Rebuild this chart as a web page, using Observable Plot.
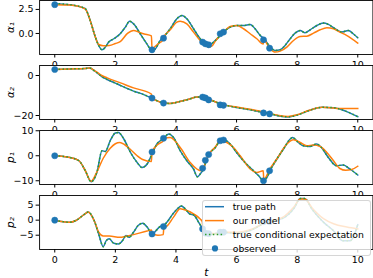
<!DOCTYPE html>
<html><head><meta charset="utf-8">
<script src="https://cdn.jsdelivr.net/npm/d3@7"></script>
<script src="https://cdn.jsdelivr.net/npm/@observablehq/plot@0.6"></script>
<style>
body{margin:0;background:#fff;}
#fig{position:relative;width:373px;height:278px;overflow:hidden;font-family:"DejaVu Sans",sans-serif;background:#fff;}
#fig svg.panel{position:absolute;left:0;}
#legend{position:absolute;left:202px;top:200px;width:169px;height:56px;box-sizing:border-box;background:rgba(255,255,255,0.8);border:1px solid rgba(204,204,204,0.8);border-radius:3px;}
</style></head><body><div id="fig"></div>
<script>
// ---- data (t, value) ----
const xTicks = [0, 2, 4, 6, 8, 10];
const seriesNames = ["true path", "our model", "true conditional expectation", "observed"];
const seriesColors = ["#1f77b4", "#ff7f0e", "#2ca02c", "#1f77b4"];
const panelLabels = ["α₁", "α₂", "p₁", "p₂"];

const tObs = [0, 3.21, 3.59, 4.88, 4.97, 5.08, 5.46, 5.57, 6.89, 7.09];
const obsA1 = [3.0, -1.7, -0.49, -0.9, -1.08, -1.18, -0.03, 0.14, -0.66, -1.53];
const obsA2 = [3.0, -11.3, -13.8, -10.8, -11.2, -12.2, -14.7, -14.9, -18.7, -19.2];
const obsP1 = [0, 1.5, 7.0, -5.0, -1.8, 0.5, 6.0, 6.3, -10, -6];
const obsP2 = [0, -4.6, -2.1, -2.9, -4.3, -4.5, -4.0, -4.0, -0.5, -0.5];

const a1True = [[0,3.1],[0.5,3.0],[1.0,2.6],[1.17,1.35],[1.34,-0.38],[1.45,-1.25],[1.56,-1.7],[1.67,-1.42],[1.78,-0.9],[1.95,-0.55],[2.16,-0.03],[2.33,0.66],[2.47,1.28],[2.65,0.83],[2.82,-0.03],[3.04,-1.08],[3.19,-1.7],[3.3,-1.65],[3.48,-0.73],[3.59,-0.38],[3.81,0.49],[4.03,1.53],[4.2,1.88],[4.36,1.53],[4.58,0.49],[4.8,-0.55],[4.91,-0.9],[5.08,-1.25],[5.24,-0.9],[5.41,-0.38],[5.57,0.14],[5.79,0.66],[6.01,0.83],[6.23,0.83],[6.45,0.94],[6.61,0.49],[6.78,-0.2],[6.94,-0.66],[7.11,-1.42],[7.27,-1.77],[7.44,-1.7],[7.6,-1.25],[7.77,-0.55],[7.93,0.03],[8.1,0.31],[8.26,0.07],[8.43,0.38],[8.65,0.83],[8.87,1.08],[9.03,0.94],[9.25,0.49],[9.47,0.14],[9.69,0.31],[9.85,-0.03],[10,-0.45]];
const a1Model = [[0,3.0],[0.5,2.95],[1.0,2.55],[1.17,1.35],[1.34,-0.38],[1.45,-1.15],[1.6,-1.28],[1.8,-1.25],[2.0,-1.05],[2.16,-0.85],[2.4,0.0],[2.6,0.31],[2.8,0.1],[2.95,-0.05],[3.19,-0.25],[3.21,-1.55],[3.4,-1.1],[3.58,-0.65],[3.6,-0.4],[3.81,0.38],[4.03,1.18],[4.14,1.28],[4.36,1.0],[4.58,0.14],[4.8,-0.73],[4.91,-1.08],[5.08,-1.42],[5.19,-1.3],[5.3,-0.8],[5.46,-0.2],[5.57,0.14],[5.79,0.73],[6.01,0.83],[6.23,0.49],[6.45,-0.03],[6.67,-0.55],[6.88,-1.1],[6.9,-0.7],[7.11,-1.6],[7.27,-1.94],[7.44,-1.84],[7.66,-1.42],[7.88,-0.73],[8.1,-0.31],[8.32,-0.28],[8.54,0.03],[8.76,0.38],[8.98,0.59],[9.2,0.49],[9.41,0.14],[9.63,-0.2],[10,-1.0]];

const a2True = [[0,3.0],[0.5,3.3],[1.0,3.5],[1.15,3.7],[1.34,2.0],[1.55,-0.5],[1.73,-2.0],[2.0,-3.8],[2.17,-5.0],[2.6,-7.8],[2.9,-9.3],[3.2,-11.3],[3.4,-12.8],[3.6,-13.8],[3.8,-14.0],[4.0,-13.5],[4.4,-12.0],[4.7,-10.8],[4.9,-10.9],[5.1,-12.0],[5.5,-14.3],[6.0,-16.0],[6.5,-17.3],[6.9,-18.6],[7.1,-19.1],[7.4,-20.2],[7.7,-20.7],[8.0,-19.8],[8.4,-17.5],[8.82,-15.9],[9.2,-16.1],[9.6,-17.8],[10,-20.6]];
const a2Model = [[0,3.0],[0.5,3.3],[1.0,3.5],[1.15,3.7],[1.34,2.2],[1.55,0.0],[1.73,-1.2],[2.17,-3.7],[2.6,-6.2],[3.19,-9.3],[3.21,-11.3],[3.4,-12.8],[3.6,-13.8],[3.8,-14.0],[4.0,-13.5],[4.4,-12.0],[4.7,-10.8],[4.9,-10.9],[5.1,-12.0],[5.5,-14.3],[6.0,-15.8],[6.5,-17.0],[6.9,-18.3],[7.1,-19.0],[7.4,-20.0],[7.7,-20.5],[8.0,-19.6],[8.4,-17.4],[8.82,-15.9],[9.2,-16.3],[9.35,-16.5],[10,-16.5]];

const p1True = [[0,0],[0.5,-0.7],[0.8,-2],[1.01,-6],[1.2,-10.4],[1.39,-6.7],[1.56,2.0],[1.67,1.7],[1.83,6],[2.0,9.1],[2.1,9.3],[2.28,6.7],[2.5,1.3],[2.72,-2.7],[2.88,-4.7],[3.05,-3.3],[3.21,0.7],[3.37,4.7],[3.59,6.9],[3.76,8.7],[3.92,7.3],[4.14,2.0],[4.36,-2.0],[4.58,-5.3],[4.71,-8.4],[4.8,-7.3],[4.91,-5.3],[5.0,-2],[5.1,0.7],[5.3,3.3],[5.46,6],[5.58,6.4],[5.79,4.7],[6.0,1.3],[6.28,-2.7],[6.5,-5.3],[6.73,-8],[6.89,-10],[7.0,-8.7],[7.16,-4.7],[7.33,-1.3],[7.55,2.7],[7.77,6.7],[7.85,7.3],[8.04,5.3],[8.2,4.0],[8.42,3.7],[8.64,4.7],[8.8,3.3],[9.03,-0.7],[9.3,-4],[9.52,-3.7],[9.74,-5.3],[10,-7.7]];
const p1Model = [[0,0],[0.5,-0.7],[0.8,-2],[1.01,-6],[1.2,-10.2],[1.39,-6.5],[1.6,-1],[1.83,3],[2.0,4.8],[2.15,5.3],[2.3,4.5],[2.5,2.5],[2.72,0],[2.9,-1.5],[3.19,-2.3],[3.21,1.5],[3.4,4.5],[3.58,6.0],[3.6,6.9],[3.81,7.3],[4.14,3.3],[4.47,-2.7],[4.69,-5.3],[4.8,-6],[4.9,-5.5],[4.97,-2.7],[5.08,0.5],[5.3,3.5],[5.46,6],[5.68,5.3],[5.9,3.3],[6.12,0],[6.45,-5.3],[6.67,-6.7],[6.88,-6],[6.9,-9.6],[7.09,-5.5],[7.33,-1.3],[7.66,4.7],[7.88,6.4],[8.1,5.3],[8.32,4],[8.54,4.3],[8.76,3.7],[8.98,1.3],[9.2,-2],[9.41,-5.1],[9.6,-5.8],[9.8,-5.5],[10,-4.2]];

const p2True = [[0,0],[0.5,-0.7],[0.7,-0.1],[1.0,2.1],[1.1,2.7],[1.3,-0.1],[1.45,-4.6],[1.6,-8.8],[1.7,-6.8],[1.8,-6.2],[1.95,-7.7],[2.1,-7.9],[2.25,-6.6],[2.35,-5.1],[2.45,-5.7],[2.6,-4],[2.75,-1.8],[2.9,-1.0],[3.05,-2.3],[3.21,-4.6],[3.35,-3.4],[3.45,-2.3],[3.59,-1.8],[3.7,-0.7],[3.9,2.1],[4.05,3.8],[4.18,4.7],[4.3,3.8],[4.45,2.1],[4.6,1.6],[4.75,-0.7],[4.88,-2.9],[5.0,-4.2],[5.2,-4.6],[5.5,-4.0],[6.0,-4.3],[6.5,-3.2],[7.0,-0.5],[7.5,0.5],[7.9,4],[8.1,7.2],[8.25,7.2],[8.5,3.5],[8.87,-0.7],[9.2,-3.5],[9.5,-6.8],[9.75,-6.8],[10,-1.5]];
const p2Model = [[0,0],[0.5,-0.7],[0.7,-0.1],[1.0,2.1],[1.1,2.7],[1.3,-0.1],[1.45,-4],[1.6,-5.3],[1.8,-5.3],[2.15,-5.7],[2.6,-4.8],[3.05,-3.6],[3.19,-3.3],[3.21,-4.5],[3.4,-5.0],[3.58,-4.8],[3.6,-2.5],[3.7,-2.0],[3.92,1],[4.14,3.8],[4.36,3.2],[4.58,2.1],[4.8,0.4],[4.87,-0.5],[4.89,-3.0],[5.0,-4.0],[5.3,-4.5],[5.6,-4.0],[6.0,-4.0],[6.5,-3.0],[7.0,-0.6],[7.5,0.8],[7.9,4.5],[8.1,7.0],[8.25,7.0],[8.5,4.0],[8.87,0.5],[9.2,-1.2],[9.64,-2.3],[10,-2.9]];

// true conditional expectation coincides with the true path here
const a1Cond = a1True, a2Cond = a2True, p1Cond = p1True, p2Cond = p2True;

const yDomains = [[-2.19, 3.43], [-22, 5], [-11.5, 10.1], [-9.75, 8.2]];
const yTicks = [[0, 2.5], [0, -20], [10, 0, -10], [5, 0, -5]];
const intFmt = d => d3.format("d")(d).replace("-", "−");
const yFormats = [d3.format(".1f"), intFmt, intFmt, intFmt];

const panels = [
  {tru: a1True, model: a1Model, cond: a1Cond, obs: obsA1},
  {tru: a2True, model: a2Model, cond: a2Cond, obs: obsA2},
  {tru: p1True, model: p1Model, cond: p1Cond, obs: obsP1},
  {tru: p2True, model: p2Model, cond: p2Cond, obs: obsP2}
];

// ---- layout ----
const fig = document.getElementById("fig");
const MT = 10, MB = 30, FH = 54, STEP = 65;
const X = d => d[0], Y = d => d[1];
const DOT = "1.5,2.4";

panels.forEach((p, i) => {
  const obsData = tObs.map((t, k) => ({t, v: p.obs[k]}));
  const marks = [
    Plot.frame({fill: "white", stroke: "none"}),
    Plot.axisX({ticks: xTicks, tickSize: 3.5, tickPadding: 3, label: null, fontSize: 9.5}),
    Plot.axisY({ticks: yTicks[i], tickFormat: yFormats[i], tickSize: 3.5, tickPadding: 2.5, label: null, fontSize: 9.5}),
    Plot.line(p.tru, {x: X, y: Y, stroke: seriesColors[0], strokeWidth: 1.5, curve: "monotone-x", strokeLinecap: "square"}),
    Plot.line(p.model, {x: X, y: Y, stroke: seriesColors[1], strokeWidth: 1.5, curve: "monotone-x", strokeLinecap: "square"}),
    Plot.line(p.cond, {x: X, y: Y, stroke: seriesColors[2], strokeWidth: 1.5, strokeDasharray: DOT, strokeLinecap: "butt", curve: "monotone-x"}),
    Plot.dot(obsData, {x: "t", y: "v", r: 3.1, fill: seriesColors[3], stroke: seriesColors[3], strokeWidth: 0.5}),
    Plot.frame({stroke: "#000", strokeWidth: 0.9}),
    Plot.text([panelLabels[i]], {text: d => d, frameAnchor: "left", dx: -29, rotate: -90, textAnchor: "middle", fontStyle: "italic", fontSize: 10.5})
  ];
  if (i === 3) marks.push(Plot.text(["t"], {text: d => d, frameAnchor: "bottom", dy: 22.7, lineAnchor: "middle", fontStyle: "italic", fontSize: 10.5}));
  const svg = Plot.plot({
    width: 373, height: MT + FH + MB,
    marginTop: MT, marginBottom: MB, marginLeft: 39.1, marginRight: 0.6,
    x: {domain: [-0.5, 10.5]},
    y: {domain: yDomains[i]},
    style: {fontFamily: "DejaVu Sans", fontSize: "9.5px", color: "#000", background: "transparent", overflow: "visible"},
    marks
  });
  svg.classList.add("panel");
  svg.style.top = (i * STEP - MT) + "px";
  fig.appendChild(svg);
});

// ---- legend ----
const leg = document.createElement("div");
leg.id = "legend";
fig.appendChild(leg);
const lsvg = d3.select(leg).append("svg").attr("width", 169).attr("height", 56).style("position", "absolute").style("left", "-1px").style("top", "-1px");
seriesNames.forEach((name, k) => {
  const cy = 6.7 + k * 13.9;
  if (k < 3) {
    lsvg.append("line").attr("x1", 3).attr("x2", 22).attr("y1", cy).attr("y2", cy)
      .attr("stroke", seriesColors[k]).attr("stroke-width", 1.5)
      .attr("stroke-dasharray", k === 2 ? DOT : null);
  } else {
    lsvg.append("circle").attr("cx", 13).attr("cy", cy).attr("r", 3.1).attr("fill", seriesColors[k]);
  }
  lsvg.append("text").attr("x", 30.7).attr("y", cy + 3.4).attr("font-family", "DejaVu Sans").attr("font-size", "9.3px").attr("fill", "#000").text(name);
});
</script>
</body></html>
